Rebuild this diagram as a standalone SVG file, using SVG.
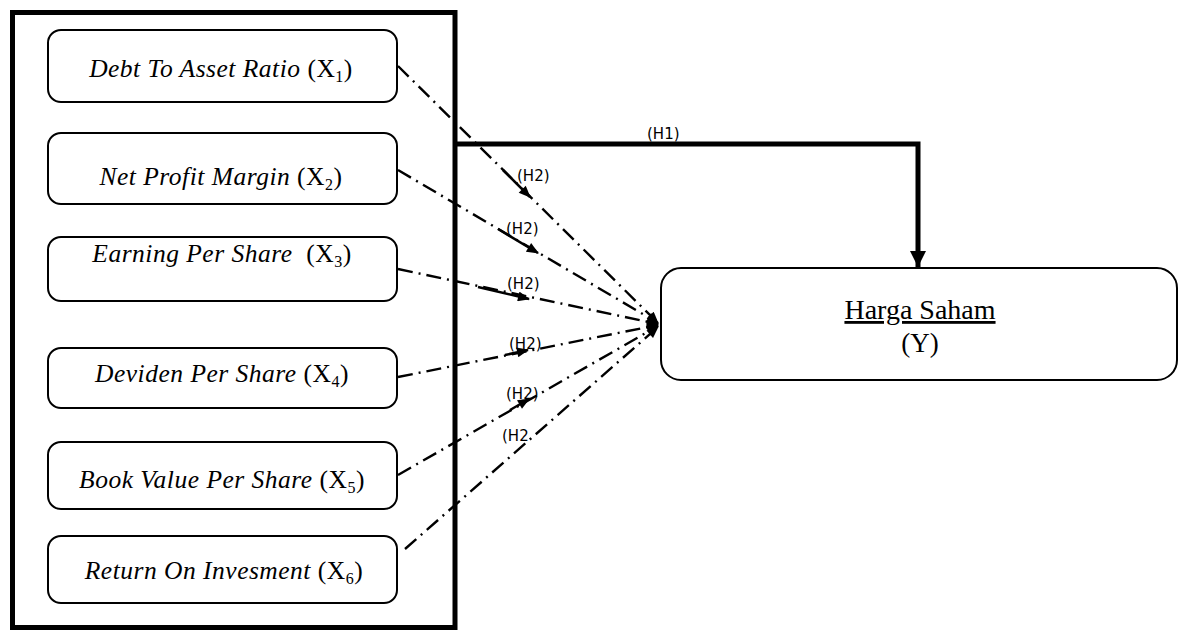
<svg xmlns="http://www.w3.org/2000/svg" width="1182" height="632" viewBox="0 0 1182 632">
<defs>
<marker id="ah" viewBox="0 0 12 10" refX="11" refY="5" markerWidth="13" markerHeight="10" markerUnits="userSpaceOnUse" orient="auto"><path d="M0,0 L12,5 L0,10 Z" fill="#000"/></marker>
<marker id="ahBig" viewBox="0 0 16 16" refX="8" refY="16" markerWidth="16" markerHeight="16" markerUnits="userSpaceOnUse" orient="0"><path d="M0,0 L16,0 L8,16 Z" fill="#000"/></marker>
</defs>
<style>
.box{fill:#fff;stroke:#000;stroke-width:2}
.frame{fill:none;stroke:#000;stroke-width:5}
.lbl{font-family:"Liberation Serif","Times New Roman",serif;font-size:25.5px;letter-spacing:0.5px;fill:#000}
.it{font-style:italic}
.sub{font-size:16px}
.dd{fill:none;stroke:#000;stroke-width:2.4;stroke-dasharray:15 6 2 6}
.mid{fill:none;stroke:#000;stroke-width:2.5}
.h{font-family:"DejaVu Sans",Verdana,sans-serif;font-size:15px;fill:#000}
</style>
<rect width="1182" height="632" fill="#fff"/>
<rect class="frame" x="12.5" y="12.5" width="442.5" height="615"/>

<g id="x1"><rect class="box" x="48" y="30" width="349" height="72" rx="13"/><text class="lbl" x="221" y="77" text-anchor="middle"><tspan class="it">Debt To Asset Ratio</tspan> (X<tspan class="sub" dy="5">1</tspan><tspan dy="-5">)</tspan></text></g>
<g id="x2"><rect class="box" x="48" y="133" width="349" height="71" rx="13"/><text class="lbl" x="221" y="185" text-anchor="middle"><tspan class="it">Net Profit Margin</tspan> (X<tspan class="sub" dy="5">2</tspan><tspan dy="-5">)</tspan></text></g>
<g id="x3"><rect class="box" x="48" y="237" width="349" height="64" rx="13"/><text class="lbl" x="222" y="262" text-anchor="middle"><tspan class="it">Earning Per Share</tspan>&#160; (X<tspan class="sub" dy="5">3</tspan><tspan dy="-5">)</tspan></text></g>
<g id="x4"><rect class="box" x="48" y="348" width="349" height="60" rx="13"/><text class="lbl" x="222" y="382" text-anchor="middle"><tspan class="it">Deviden Per Share</tspan> (X<tspan class="sub" dy="5">4</tspan><tspan dy="-5">)</tspan></text></g>
<g id="x5"><rect class="box" x="48" y="442" width="349" height="67" rx="13"/><text class="lbl" x="222" y="488" text-anchor="middle"><tspan class="it">Book Value Per Share</tspan> (X<tspan class="sub" dy="5">5</tspan><tspan dy="-5">)</tspan></text></g>
<g id="x6"><rect class="box" x="48" y="536" width="349" height="67" rx="13"/><text class="lbl" x="224" y="579" text-anchor="middle"><tspan class="it">Return On Invesment</tspan> (X<tspan class="sub" dy="5">6</tspan><tspan dy="-5">)</tspan></text></g>

<g id="y"><rect class="box" x="661" y="268" width="516" height="112" rx="20"/><text class="lbl" x="920" y="319" text-anchor="middle" style="font-size:28px;letter-spacing:0" text-decoration="underline">Harga Saham</text><text class="lbl" x="920" y="352" text-anchor="middle" style="font-size:27px;letter-spacing:0">(Y)</text></g>

<g id="connectors">
<polyline points="456,144 918,144 918,267" fill="none" stroke="#000" stroke-width="5" marker-end="url(#ahBig)"/>
<line class="dd" x1="398" y1="66" x2="658" y2="323" marker-end="url(#ah)"/>
<line class="dd" x1="398" y1="170" x2="658" y2="323" marker-end="url(#ah)"/>
<line class="dd" x1="398" y1="269" x2="658" y2="324" marker-end="url(#ah)"/>
<line class="dd" x1="398" y1="377" x2="658" y2="325" marker-end="url(#ah)"/>
<line class="dd" x1="398" y1="475" x2="658" y2="326" marker-end="url(#ah)"/>
<line class="dd" x1="405" y1="549" x2="658" y2="327" marker-end="url(#ah)"/>
<line class="mid" x1="503" y1="170" x2="530" y2="197" marker-end="url(#ah)"/>
<line class="mid" x1="498" y1="229" x2="538" y2="253" marker-end="url(#ah)"/>
<line class="mid" x1="478" y1="287" x2="529" y2="299" marker-end="url(#ah)"/>
<line class="mid" x1="505" y1="355" x2="528" y2="350" marker-end="url(#ah)"/>
<line class="mid" x1="510" y1="410" x2="529" y2="399" marker-end="url(#ah)"/>
<text class="h" x="647" y="139">(H1)</text>
<text class="h" x="517" y="181">(H2)</text>
<text class="h" x="506" y="234">(H2)</text>
<text class="h" x="507" y="289">(H2)</text>
<text class="h" x="509" y="349">(H2)</text>
<text class="h" x="506" y="399">(H2)</text>
<text class="h" x="502" y="441">(H2</text>
</g>
</svg>
